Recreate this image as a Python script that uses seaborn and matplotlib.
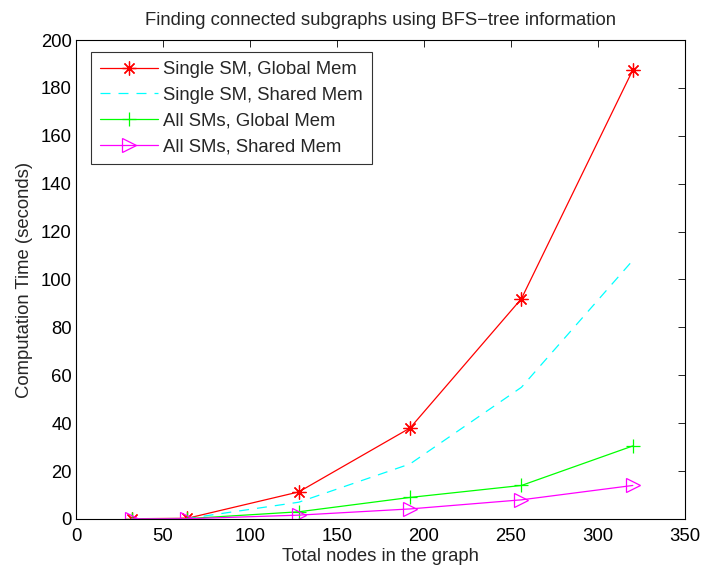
import matplotlib
matplotlib.use("Agg")
import matplotlib.pyplot as plt
import pandas as pd
import seaborn as sns

NODES = [32, 64, 128, 192, 256, 320]
SINGLE_GLOBAL = [0.1, 0.3, 11.3, 38.0, 92.0, 187.5]
SINGLE_SHARED = [0.1, 0.2, 7.0, 23.0, 55.0, 108.0]
ALL_GLOBAL = [0.05, 0.15, 3.0, 9.0, 14.0, 30.5]
ALL_SHARED = [0.05, 0.1, 1.6, 4.2, 8.0, 14.0]

SERIES = [
    ("Single SM, Global Mem", SINGLE_GLOBAL, "#ff0000", "-", (8, 2, 0)),
    ("Single SM, Shared Mem", SINGLE_SHARED, "#00ffff", (0, (8, 6.4)), None),
    ("All SMs, Global Mem", ALL_GLOBAL, "#00ff00", "-", "+"),
    ("All SMs, Shared Mem", ALL_SHARED, "#ff00ff", "-", ">"),
]

FS = 13.3

sns.set_theme(style="white")
plt.rcParams["font.family"] = ["Liberation Sans", "DejaVu Sans"]

fig = plt.figure(figsize=(7.02, 5.69), dpi=100)
ax = fig.add_axes([0.1083, 0.0879, 0.8675, 0.8418])

for label, vals, color, ls, marker in SERIES:
    df = pd.DataFrame({"nodes": NODES, "time": vals})
    sns.lineplot(
        data=df, x="nodes", y="time", ax=ax, color=color, linewidth=0.9,
        linestyle=ls, marker=marker if marker else "", markersize=10,
        markerfacecolor="none" if marker == ">" else color,
        markeredgecolor=color, markeredgewidth=0.9, label=label,
    )

ax.set_xlim(0, 350)
ax.set_ylim(0, 200)
ax.set_xticks(range(0, 351, 50))
ax.set_yticks(range(0, 201, 20))
ax.tick_params(direction="in", top=True, right=True, length=5, width=0.6,
               labelsize=FS, colors="black", pad=3)
ax.tick_params(axis="x", pad=6.5)
for sp in ax.spines.values():
    sp.set_color("black")
    sp.set_linewidth(0.8)
ax.set_xlabel("Total nodes in the graph", fontsize=FS, labelpad=2.5)
ax.set_ylabel("Computation Time (seconds)", fontsize=FS, labelpad=6)
ax.set_title("Finding connected subgraphs using BFS\u2212tree information",
             fontsize=FS, pad=11)

leg = ax.legend(loc="upper left", bbox_to_anchor=(0.0246, 0.975), fontsize=FS,
                frameon=True, fancybox=False, edgecolor="black", borderaxespad=0,
                handlelength=3.1, handletextpad=0.3, labelspacing=0.47,
                borderpad=0.5)
leg.get_frame().set_linewidth(0.8)

fig.savefig("out.png", dpi=100)
